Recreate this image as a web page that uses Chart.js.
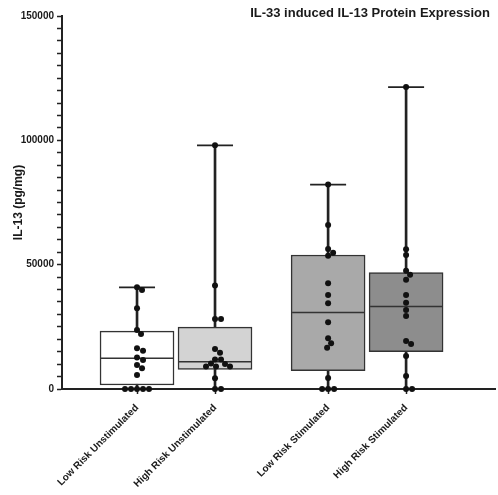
<!DOCTYPE html>
<html><head><meta charset="utf-8">
<script src="https://cdn.jsdelivr.net/npm/chart.js@4/dist/chart.umd.min.js"></script>
<style>
html,body{margin:0;padding:0;background:#fff;}
#wrap{position:relative;width:498px;height:495px;}
#title{position:absolute;right:8px;top:5px;font:bold 13px "Liberation Sans",Arial,sans-serif;color:#1a1a1a;white-space:nowrap;line-height:16px;}
</style></head><body>
<div id="wrap"><canvas id="c" width="498" height="495"></canvas><div id="title">IL-33 induced IL-13 Protein Expression</div></div>
<script>
// ---- data ----
const categories = ['Low Risk Unstimulated', 'High Risk Unstimulated', 'Low Risk Stimulated', 'High Risk Stimulated'];
const whiskerMin = [0, 0, 0, 0];
const q1 = [1600, 7900, 7400, 15000];
const median = [12400, 11000, 30800, 33200];
const q3 = [23300, 24900, 53900, 46800];
const whiskerMax = [40900, 98000, 82200, 121400];
const lowRiskUnstimulated = [40900, 39800, 32500, 23700, 22100, 16400, 15400, 12700, 11700, 9700, 8300, 5600, 0, 0, 0, 0, 0];
const highRiskUnstimulated = [98000, 41600, 28200, 28200, 16100, 14600, 11900, 11900, 10300, 10100, 9000, 9000, 9000, 4300, 0, 0];
const lowRiskStimulated = [82200, 66000, 56300, 54800, 53600, 42500, 37800, 34500, 26800, 20400, 18400, 16600, 4400, 0, 0, 0];
const highRiskStimulated = [121400, 56200, 53900, 47600, 45900, 43900, 37800, 34700, 31800, 29400, 19300, 18100, 13300, 5200, 0, 0];
const yTickLabels = ['0', '50000', '100000', '150000'];
const boxColors = ['#ffffff', '#d3d3d3', '#a9a9a9', '#8d8d8d'];

// ---- layout constants ----
const groupPos = [1, 2, 3.45, 4.45];
const X_MIN = 0.038, X_MAX = 5.59, Y_MAX = 150000;
const PLOT_W = 433, PLOT_H = 373;
const PX_X = PLOT_W / (X_MAX - X_MIN), PX_Y = PLOT_H / Y_MAX;
const FONT = '"Liberation Sans", Arial, sans-serif';
const TXT = '#1a1a1a', INK = '#222';

// simple beeswarm: spread points that would overlap
function swarm(values, center) {
  const placed = [];
  const sorted = values.slice().sort((a, b) => b - a);
  return sorted.map(v => {
    const py = v * PX_Y;
    let best = 0;
    for (let k = 0; k < 80; k++) {
      const cand = k === 0 ? 0 : (k % 2 ? 1 : -1) * Math.ceil(k / 2);
      if (placed.every(p => Math.hypot(p.x - cand, p.y - py) >= 5.6)) { best = cand; break; }
    }
    placed.push({x: best, y: py});
    return {x: center + best / PX_X, y: v};
  });
}

const groups = [lowRiskUnstimulated, highRiskUnstimulated, lowRiskStimulated, highRiskStimulated];
const datasets = [];
// whiskers
datasets.push({type: 'bar', label: 'whisker', grouped: false, order: 5,
  data: groupPos.map((p, i) => ({x: p, y: [whiskerMin[i], whiskerMax[i]]})),
  backgroundColor: INK, borderWidth: 0, barThickness: 2});
// boxes
datasets.push({type: 'bar', label: 'box', grouped: false, order: 4,
  data: groupPos.map((p, i) => ({x: p, y: [q1[i], q3[i]]})),
  backgroundColor: boxColors, borderColor: '#333', borderWidth: 1.5, borderSkipped: false, barThickness: 74});
// medians
datasets.push({type: 'scatter', label: 'median', order: 3, clip: false,
  data: groupPos.map((p, i) => ({x: p, y: median[i]})),
  pointStyle: 'line', pointRadius: 36, pointBorderWidth: 1.5, pointBorderColor: '#333', pointHoverRadius: 36});
// whisker caps
datasets.push({type: 'scatter', label: 'caps', order: 3, clip: false,
  data: groupPos.map((p, i) => ({x: p, y: whiskerMax[i]})).concat(groupPos.map((p, i) => ({x: p, y: whiskerMin[i]}))),
  pointStyle: 'line', pointRadius: 18, pointBorderWidth: 1.8, pointBorderColor: INK, pointHoverRadius: 18});
// individual points
groups.forEach((g, i) => {
  datasets.push({type: 'scatter', label: categories[i], order: 1, clip: false,
    data: swarm(g, groupPos[i]),
    pointRadius: 3, pointBackgroundColor: '#111', pointBorderWidth: 0, pointHoverRadius: 3});
});

new Chart(document.getElementById('c'), {
  type: 'bar',
  data: {datasets},
  options: {
    responsive: false, animation: false, devicePixelRatio: 1,
    layout: {autoPadding: false, padding: {top: 16, right: 3, bottom: 0, left: 0}},
    plugins: {legend: {display: false}, tooltip: {enabled: false}, title: {display: false}},
    scales: {
      x: {
        type: 'linear', min: X_MIN, max: X_MAX, offset: false,
        afterBuildTicks: s => { s.ticks = groupPos.map(v => ({value: v})); },
        afterFit: s => { s.height = 106; },
        ticks: {autoSkip: false, minRotation: 45, maxRotation: 45, padding: 8,
          callback: (v, i) => categories[i],
          font: {family: FONT, size: 10, weight: 'bold'}, color: TXT},
        grid: {display: true, offset: false, drawOnChartArea: false, drawTicks: true, tickLength: 5, tickColor: INK, tickWidth: 1.5},
        border: {display: true, color: INK, width: 2}
      },
      y: {
        min: 0, max: Y_MAX,
        afterFit: s => { s.width = 62; },
        ticks: {stepSize: 5000, autoSkip: false, padding: 3,
          callback: v => (v % 50000 === 0 ? yTickLabels[v / 50000] : ''),
          font: {family: FONT, size: 10, weight: 'bold'}, color: TXT},
        grid: {display: true, drawOnChartArea: false, drawTicks: true, tickLength: 5, tickColor: INK, tickWidth: 1.5},
        border: {display: true, color: INK, width: 2},
        title: {display: true, text: 'IL-13 (pg/mg)', color: TXT,
          font: {family: FONT, size: 12, weight: 'bold'}, padding: {top: 11, bottom: 0}}
      }
    }
  }
});
</script>
</body></html>
